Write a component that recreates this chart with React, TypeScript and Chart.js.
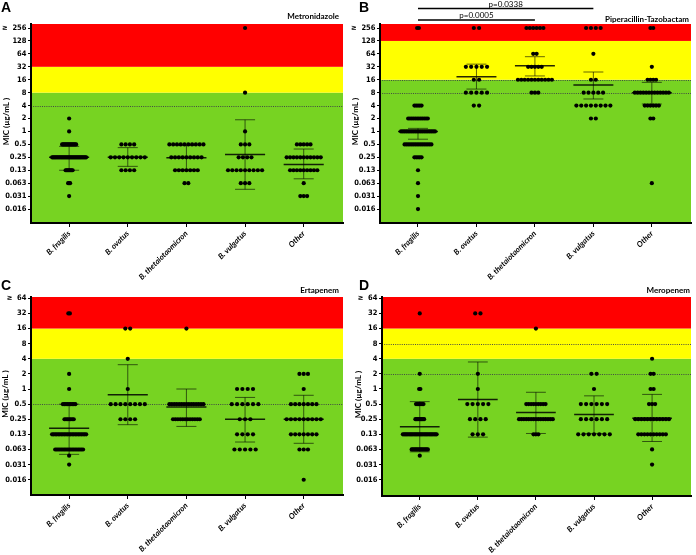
import React, { useEffect, useRef } from "react";
import { Chart, registerables } from "chart.js";

Chart.register(...registerables);

// ---------------- data ----------------
const categories = ["B. fragilis", "B. ovatus", "B. thetaiotaomicron", "B. vulgatus", "Other"];

// y tick labels, one per two-fold dilution, starting at MIC 0.016 (2^-6)
const lowestTickMic = 0.015625;
const yTickLabelsTo256 = ["0.016", "0.031", "0.063", "0.13", "0.25", "0.5", "1", "2", "4", "8", "16", "32", "64", "128", "≥  256"];
const yTickLabelsTo64 = ["0.016", "0.031", "0.063", "0.13", "0.25", "0.5", "1", "2", "4", "8", "16", "32", "≥  64"];

// Each row: [MIC (µg/mL), number of isolates]
// Metronidazole
const metFragilis = [[2, 1], [1, 1], [0.5, 15], [0.25, 35], [0.125, 8], [0.0625, 3], [0.03125, 1]];
const metOvatus = [[0.5, 4], [0.25, 9], [0.125, 4]];
const metThetaiotaomicron = [[0.5, 10], [0.25, 9], [0.125, 7], [0.0625, 2]];
const metVulgatus = [[256, 1], [8, 1], [1, 1], [0.5, 3], [0.25, 4], [0.125, 9], [0.0625, 3]];
const metOther = [[0.5, 5], [0.25, 11], [0.125, 9], [0.0625, 1], [0.03125, 3]];
const metMean = [0.25, 0.25, 0.245, 0.29, 0.17];
const metSdLow = [0.125, 0.154, 0.13, 0.045, 0.079];
const metSdHigh = [0.45, 0.42, 0.47, 1.87, 0.39];
const metBreakpoints = [8, 32]; // intermediate from, resistant from
const metDottedAt = [4];

// Piperacillin-Tazobactam
const pipFragilis = [[256, 2], [4, 5], [2, 12], [1, 20], [0.5, 16], [0.25, 5], [0.125, 1], [0.0625, 1], [0.03125, 1], [0.015625, 1]];
const pipOvatus = [[256, 2], [32, 5], [16, 2], [8, 5], [4, 2]];
const pipThetaiotaomicron = [[256, 6], [64, 2], [32, 5], [16, 11], [8, 3]];
const pipVulgatus = [[256, 4], [64, 1], [16, 2], [8, 5], [4, 8], [2, 2]];
const pipOther = [[256, 2], [32, 1], [16, 4], [8, 13], [4, 6], [2, 2], [0.0625, 1]];
const pipMean = [1.0, 18.8, 34, 12.1, 8];
const pipSdLow = [0.66, 9.7, 19.6, 5.7, 4.35];
const pipSdHigh = [1.18, 36.9, 55, 24.2, 13.9];
const pipBreakpoints = [16, 128];
const pipDottedAt = [16, 8];
const pipComparisons = [
  { from: 0, to: 3, label: "p=0.0338" },
  { from: 0, to: 2, label: "p=0.0005" },
];

// Ertapenem
const ertFragilis = [[32, 2], [2, 1], [1, 1], [0.5, 9], [0.25, 7], [0.125, 23], [0.0625, 19], [0.047, 1], [0.03125, 1]];
const ertOvatus = [[16, 2], [4, 1], [1, 1], [0.5, 8], [0.25, 4]];
const ertThetaiotaomicron = [[16, 1], [0.5, 15], [0.25, 12]];
const ertVulgatus = [[1, 4], [0.5, 6], [0.25, 3], [0.125, 4], [0.0625, 5]];
const ertOther = [[2, 3], [1, 1], [0.5, 7], [0.25, 9], [0.125, 7], [0.0625, 3], [0.015625, 1]];
const ertMean = [0.165, 0.77, 0.44, 0.25, 0.25];
const ertSdLow = [0.05, 0.195, 0.18, 0.088, 0.083];
const ertSdHigh = [0.5, 3.05, 1.0, 0.68, 0.75];
const ertBreakpoints = [4, 16];
const ertDottedAt = [0.5];

// Meropenem
const merFragilis = [[32, 1], [2, 1], [1, 2], [0.5, 7], [0.25, 8], [0.125, 28], [0.0625, 14], [0.047, 1]];
const merOvatus = [[32, 2], [2, 1], [1, 1], [0.5, 5], [0.25, 4], [0.125, 3]];
const merThetaiotaomicron = [[16, 1], [0.5, 9], [0.25, 15], [0.125, 3]];
const merVulgatus = [[2, 2], [1, 1], [0.5, 6], [0.25, 6], [0.125, 7]];
const merOther = [[4, 1], [2, 2], [1, 2], [0.5, 3], [0.25, 12], [0.125, 10], [0.0625, 1], [0.03125, 1]];
const merMean = [0.177, 0.62, 0.34, 0.31, 0.26];
const merSdLow = [0.056, 0.11, 0.13, 0.13, 0.09];
const merSdHigh = [0.56, 3.45, 0.86, 0.73, 0.78];
const merBreakpoints = [4, 16];
const merDottedAt = [8, 2];

// ---------------- styles / layout ----------------
const RED = "#FF0000";
const YELLOW = "#FFFF00";
const GREEN = "#77D322";
const DOTTED = "rgba(60,60,70,0.9)";
const MEAN_COLOR = "rgba(0,0,0,0.85)";
const SD_COLOR = "rgba(0,0,0,0.6)";
const SANS = 'Lato, "Open Sans", sans-serif';
const NARROW = '"Liberation Sans Narrow", "DejaVu Sans Condensed", Lato, sans-serif';

const X_MIN = -0.65;
const X_MAX = 4.67;
const PX_PER_UNIT = 58.5;
const BASE_SPACING = 5.3 / PX_PER_UNIT;
const MAX_SPAN = 34 / PX_PER_UNIT;
const MEAN_HALF = 20 / PX_PER_UNIT;
const CAP_HALF = 10 / PX_PER_UNIT;

type Panel = {
  key: string;
  left: number; top: number; w: number; h: number;
  area: { left: number; right: number; top: number; bottom: number };
  yMin: number; yMax: number;
  tickLabels: string[];
  groups: number[][][];
  mean: number[]; sdLow: number[]; sdHigh: number[];
  breakpoints: number[]; dotted: number[];
  letter: string; letterX: number; letterY: number;
  title: string; titleRight: number; titleY: number;
  yTitleX: number;
  comparisons?: { from: number; to: number; label: string }[];
};

const panels: Panel[] = [
  {
    key: "A", left: 0, top: 0, w: 348, h: 285,
    area: { left: 31, right: 343, top: 24, bottom: 223 },
    yMin: -7.08, yMax: 8.31, tickLabels: yTickLabelsTo256,
    groups: [metFragilis, metOvatus, metThetaiotaomicron, metVulgatus, metOther],
    mean: metMean, sdLow: metSdLow, sdHigh: metSdHigh,
    breakpoints: metBreakpoints, dotted: metDottedAt,
    letter: "A", letterX: 1, letterY: 12,
    title: "Metronidazole", titleRight: 339, titleY: 18.5, yTitleX: 6,
  },
  {
    key: "B", left: 348, top: 0, w: 348, h: 285,
    area: { left: 32, right: 343, top: 24, bottom: 223 },
    yMin: -7.08, yMax: 8.31, tickLabels: yTickLabelsTo256,
    groups: [pipFragilis, pipOvatus, pipThetaiotaomicron, pipVulgatus, pipOther],
    mean: pipMean, sdLow: pipSdLow, sdHigh: pipSdHigh,
    breakpoints: pipBreakpoints, dotted: pipDottedAt,
    letter: "B", letterX: 11, letterY: 12,
    title: "Piperacillin-Tazobactam", titleRight: 341, titleY: 21.5, yTitleX: 7.5,
    comparisons: pipComparisons,
  },
  {
    key: "C", left: 0, top: 277, w: 348, h: 278,
    area: { left: 31, right: 343, top: 20, bottom: 218 },
    yMin: -7.01, yMax: 6.086, tickLabels: yTickLabelsTo64,
    groups: [ertFragilis, ertOvatus, ertThetaiotaomicron, ertVulgatus, ertOther],
    mean: ertMean, sdLow: ertSdLow, sdHigh: ertSdHigh,
    breakpoints: ertBreakpoints, dotted: ertDottedAt,
    letter: "C", letterX: 1, letterY: 13,
    title: "Ertapenem", titleRight: 339, titleY: 16, yTitleX: 5,
  },
  {
    key: "D", left: 348, top: 277, w: 348, h: 278,
    area: { left: 34, right: 343, top: 20, bottom: 219 },
    yMin: -7.08, yMax: 6.086, tickLabels: yTickLabelsTo64,
    groups: [merFragilis, merOvatus, merThetaiotaomicron, merVulgatus, merOther],
    mean: merMean, sdLow: merSdLow, sdHigh: merSdHigh,
    breakpoints: merBreakpoints, dotted: merDottedAt,
    letter: "D", letterX: 11, letterY: 13,
    title: "Meropenem", titleRight: 342, titleY: 15.5, yTitleX: 10,
  },
];

// ---------------- helpers ----------------
function swarmPoints(groups: number[][][]) {
  const pts: { x: number; y: number }[] = [];
  groups.forEach((rows, i) => {
    const maxN = Math.max(...rows.map((r) => r[1]));
    const s = maxN > 1 ? Math.min(BASE_SPACING, MAX_SPAN / (maxN - 1)) : BASE_SPACING;
    rows.forEach(([mic, n]) => {
      const y = Math.log2(mic);
      for (let j = 0; j < n; j++) pts.push({ x: i + (j - (n - 1) / 2) * s, y });
    });
  });
  return pts;
}

function lineDs(data: { x: number; y: number }[], color: string, width: number) {
  return {
    data,
    showLine: true,
    pointRadius: 0,
    borderColor: color,
    borderWidth: width,
    fill: false,
    tension: 0,
  };
}

function errorDatasets(p: Panel) {
  const out: any[] = [];
  p.mean.forEach((m, i) => {
    const ym = Math.log2(m);
    out.push(lineDs([{ x: i - MEAN_HALF, y: ym }, { x: i + MEAN_HALF, y: ym }], MEAN_COLOR, 1.5));
  });
  p.mean.forEach((_, i) => {
    const lo = Math.log2(p.sdLow[i]);
    const hi = Math.log2(p.sdHigh[i]);
    out.push(lineDs([{ x: i, y: lo }, { x: i, y: hi }], SD_COLOR, 1));
    out.push(lineDs([{ x: i - CAP_HALF, y: hi }, { x: i + CAP_HALF, y: hi }], SD_COLOR, 1));
    out.push(lineDs([{ x: i - CAP_HALF, y: lo }, { x: i + CAP_HALF, y: lo }], SD_COLOR, 1));
  });
  return out;
}

function makeDecor(p: Panel) {
  return {
    id: "decor" + p.key,
    beforeDraw(chart: any) {
      const { ctx, chartArea: a, scales } = chart;
      const ys = scales.y;
      const w = a.right - a.left;
      const yYellow = ys.getPixelForValue(Math.log2(p.breakpoints[0]));
      const yRed = ys.getPixelForValue(Math.log2(p.breakpoints[1]));
      ctx.save();
      ctx.fillStyle = GREEN;
      ctx.fillRect(a.left, yYellow, w, a.bottom - yYellow);
      ctx.fillStyle = YELLOW;
      ctx.fillRect(a.left, yRed, w, yYellow - yRed);
      ctx.fillStyle = RED;
      ctx.fillRect(a.left, a.top, w, yRed - a.top);
      ctx.strokeStyle = DOTTED;
      ctx.lineWidth = 1;
      ctx.setLineDash([1, 1.2]);
      p.dotted.forEach((mic) => {
        const yy = Math.round(ys.getPixelForValue(Math.log2(mic))) + 0.5;
        ctx.beginPath();
        ctx.moveTo(a.left, yy);
        ctx.lineTo(a.right, yy);
        ctx.stroke();
      });
      ctx.restore();
    },
    afterDraw(chart: any) {
      const { ctx, chartArea: a, scales } = chart;
      const xs = scales.x;
      ctx.save();
      ctx.fillStyle = "#000";
      // panel letter
      ctx.font = 'bold 14px "Liberation Sans", Arial, sans-serif';
      ctx.textAlign = "left";
      ctx.textBaseline = "alphabetic";
      ctx.fillText(p.letter, p.letterX, p.letterY);
      // title
      ctx.font = `bold 8px ${SANS}`;
      ctx.textAlign = "right";
      ctx.fillText(p.title, p.titleRight, p.titleY);
      // y axis title
      ctx.save();
      ctx.translate(p.yTitleX, (a.top + a.bottom) / 2 - 2);
      ctx.rotate(-Math.PI / 2);
      ctx.textAlign = "center";
      ctx.textBaseline = "middle";
      ctx.font = `bold 8px ${SANS}`;
      ctx.fillText("MIC (µg/mL )", 0, 0);
      ctx.restore();
      // comparison brackets
      if (p.comparisons) {
        const lineYs = [8.5, 20];
        const textYs = [6.5, 18];
        p.comparisons.forEach((c, k) => {
          const x1 = xs.getPixelForValue(c.from);
          const x2 = xs.getPixelForValue(c.to);
          ctx.strokeStyle = "#000";
          ctx.lineWidth = 1.3;
          ctx.beginPath();
          ctx.moveTo(x1, lineYs[k]);
          ctx.lineTo(x2, lineYs[k]);
          ctx.stroke();
          ctx.font = `8px ${SANS}`;
          ctx.textAlign = "center";
          ctx.textBaseline = "alphabetic";
          ctx.fillText(c.label, (x1 + x2) / 2, textYs[k]);
        });
      }
      ctx.restore();
    },
  };
}

function buildConfig(p: Panel): any {
  const lowestLevel = Math.log2(lowestTickMic);
  const dots = {
    data: swarmPoints(p.groups),
    showLine: false,
    pointRadius: 2.1,
    pointBackgroundColor: "#000",
    pointBorderWidth: 0,
    pointBorderColor: "#000",
  };
  return {
    type: "scatter",
    data: { datasets: [dots, ...errorDatasets(p)] },
    options: {
      animation: false,
      responsive: false,
      devicePixelRatio: 1,
      events: [],
      layout: { padding: { left: 0, top: p.area.top, right: p.w - p.area.right, bottom: 0 } },
      plugins: { legend: { display: false }, tooltip: { enabled: false }, title: { display: false } },
      scales: {
        x: {
          type: "linear",
          min: X_MIN,
          max: X_MAX,
          bounds: "data",
          afterBuildTicks: (s: any) => {
            s.ticks = categories.map((_, i) => ({ value: i }));
          },
          afterFit: (s: any) => {
            s.height = p.h - p.area.bottom;
            s.paddingLeft = 0;
            s.paddingRight = 0;
          },
          ticks: {
            autoSkip: false,
            minRotation: 45,
            maxRotation: 45,
            padding: 2,
            color: "#000",
            font: { family: SANS, size: 7.8, weight: "bold", style: "italic" },
            callback: (_v: any, i: number) => categories[i],
          },
          grid: { display: true, drawOnChartArea: false, drawTicks: true, tickLength: 4, color: "#000", lineWidth: 1 },
          border: { display: true, color: "#000", width: 2 },
        },
        y: {
          type: "linear",
          min: p.yMin,
          max: p.yMax,
          bounds: "data",
          afterBuildTicks: (s: any) => {
            s.ticks = p.tickLabels.map((_, k) => ({ value: lowestLevel + k }));
          },
          afterFit: (s: any) => {
            s.width = p.area.left;
            s.paddingTop = 0;
            s.paddingBottom = 0;
          },
          ticks: {
            autoSkip: false,
            padding: 1.5,
            color: "#000",
            font: { family: NARROW, size: 7.5, weight: "bold" },
            callback: (_v: any, i: number) => p.tickLabels[i],
          },
          grid: { display: true, drawOnChartArea: false, drawTicks: true, tickLength: 3, color: "#000", lineWidth: 1 },
          border: { display: true, color: "#000", width: 2 },
        },
      },
    },
    plugins: [makeDecor(p)],
  };
}

function PanelChart({ p }: { p: Panel }) {
  const ref = useRef<HTMLCanvasElement>(null);
  useEffect(() => {
    if (!ref.current) return;
    const chart = new Chart(ref.current, buildConfig(p));
    return () => chart.destroy();
  }, [p]);
  return (
    <canvas
      ref={ref}
      width={p.w}
      height={p.h}
      style={{ position: "absolute", left: p.left, top: p.top, width: p.w, height: p.h }}
    />
  );
}

export default function App() {
  return (
    <div style={{ position: "absolute", left: 0, top: 0, width: 696, height: 555, background: "#fff", overflow: "hidden" }}>
      {panels.map((p) => (
        <PanelChart key={p.key} p={p} />
      ))}
    </div>
  );
}
